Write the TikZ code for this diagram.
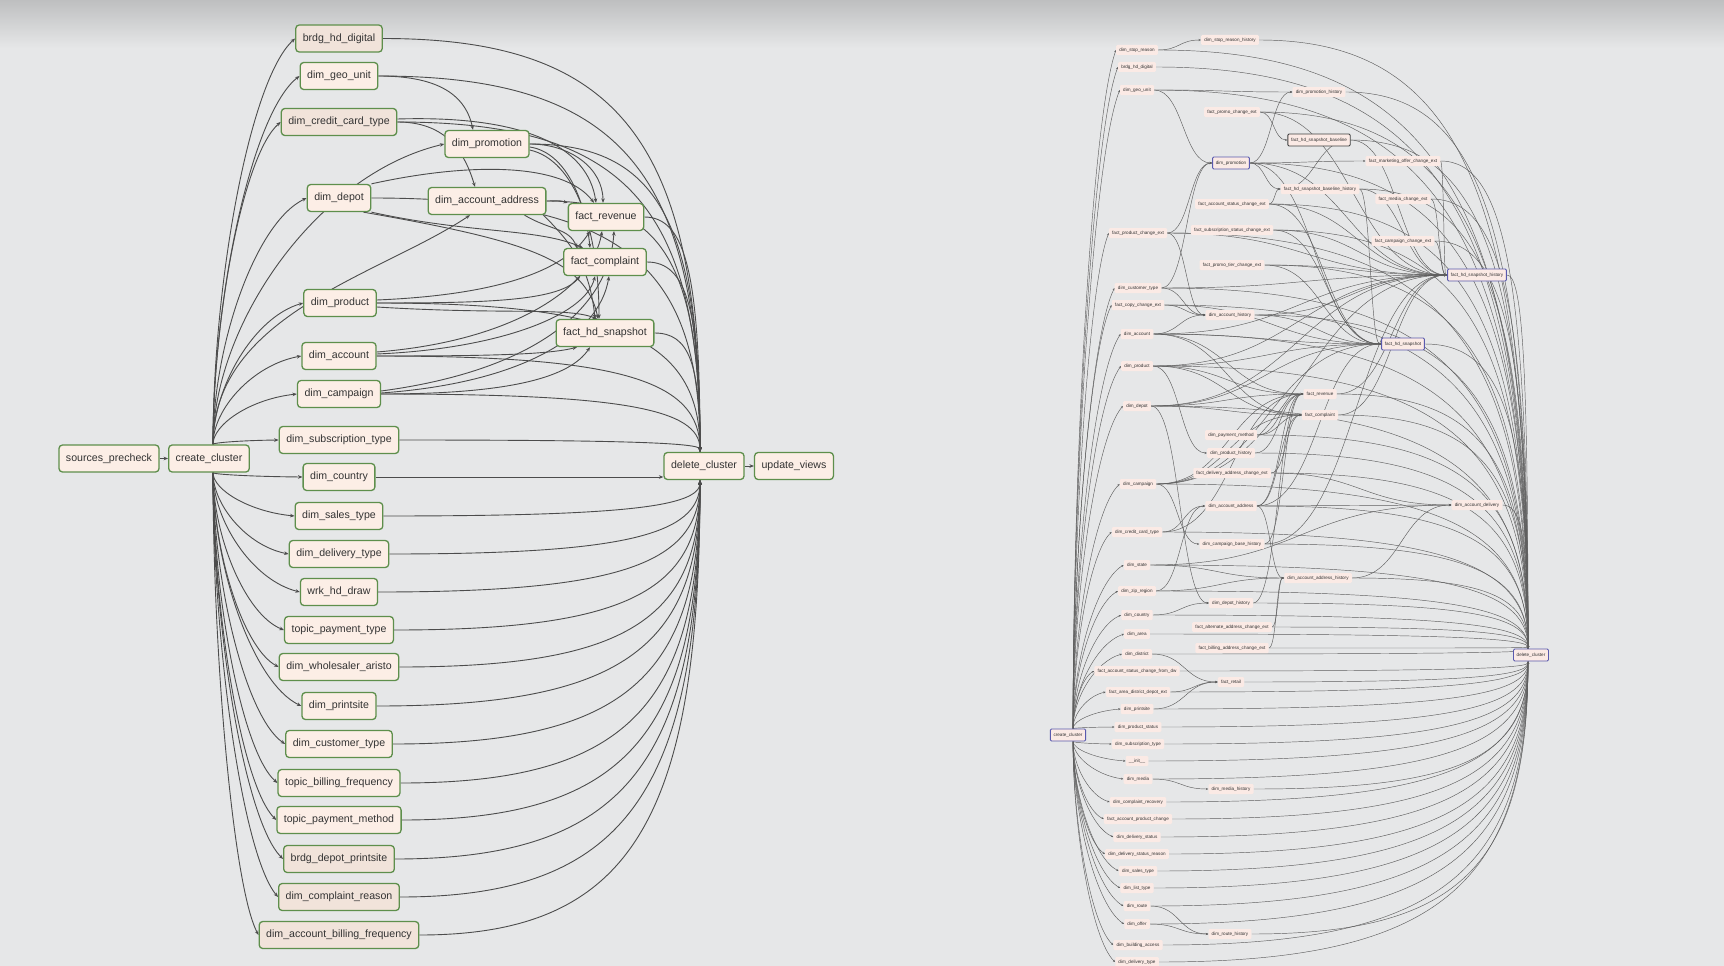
\documentclass[tikz,border=0pt]{standalone}
\usepackage{fontspec}
\setmainfont{Liberation Sans}
\usetikzlibrary{calc,arrows.meta}
\pgfdeclarelayer{bg}\pgfdeclarelayer{edges}
\pgfsetlayers{bg,edges,main}
\definecolor{bgc}{HTML}{E6E7E8}
\definecolor{topc}{HTML}{BEBFC0}
\definecolor{nfill}{HTML}{FCEEE6}
\definecolor{nfill2}{HTML}{F1E3DA}
\definecolor{ngreen}{HTML}{5E8F4C}
\definecolor{ecol}{HTML}{4C4C4C}
\definecolor{rfill}{HTML}{FBEAE5}
\definecolor{rcol}{HTML}{5E5E5E}
\definecolor{purp}{HTML}{5A5AAE}
\definecolor{txt}{HTML}{333333}
\tikzset{
 ln/.style={draw=ngreen, line width=1.3pt, fill=nfill, rounded corners=3.5pt, minimum height=27pt, inner xsep=7pt, inner ysep=0pt, font=\fontsize{10.6}{12}\selectfont, text=txt},
 ln2/.style={ln, fill=nfill2},
 rn/.style={fill=rfill, rounded corners=1.2pt, minimum height=10pt, inner xsep=3.2pt, inner ysep=0pt, font=\fontsize{4.6}{5}\selectfont, text=txt},
 rnp/.style={rn, draw=purp, line width=0.9pt, minimum height=12pt},
 rnd/.style={rn, draw=black!75, line width=0.9pt, minimum height=12pt},
 le/.style={draw=ecol, line width=0.9pt, -{Stealth[length=4.5pt,width=3.6pt]}},
 re/.style={draw=rcol, line width=0.45pt, -{Stealth[length=2.4pt,width=2pt]}},
}
\newcommand\rawVH[3]{\draw[#1] let \p1=(#2), \p2=(#3) in (\p1) .. controls (\x1,{\y1+0.4*(\y2-\y1)}) and ({\x2-0.55*(\x2-\x1)},{\y2+0.1*(\y1-\y2)}) .. (\p2);}
\newcommand\rawHV[3]{\draw[#1] let \p1=(#2), \p2=(#3) in (\p1) .. controls ($(\p1)!0.75!(\x2,\y1)$) and ($(\p2)!0.75!(\x2,\y1)$) .. (\p2);}
\newcommand\rawHH[3]{\draw[#1] let \p1=(#2.east), \p2=(#3.west) in (\p1) .. controls ($(\p1)!0.5!(\x2,\y1)$) and ($(\p2)!0.5!(\x1,\y2)$) .. (\p2);}
\newcommand\edgeVH[3][le]{\edef\tmpE{\noexpand\rawVH{#1}{#2}{#3}}\tmpE}
\newcommand\edgeHV[3][le]{\edef\tmpE{\noexpand\rawHV{#1}{#2}{#3}}\tmpE}
\newcommand\edgeHH[3][re]{\edef\tmpE{\noexpand\rawHH{#1}{#2}{#3}}\tmpE}
\begin{document}
\begin{tikzpicture}[x=1pt,y=-1pt]
\useasboundingbox (0,0) rectangle (1724,966);
\begin{pgfonlayer}{bg}
\fill[bgc] (0,0) rectangle (1724,966);
\shade[top color=topc, bottom color=bgc] (0,0) rectangle (1724,48);
\end{pgfonlayer}
% ---------------- left graph ----------------
\node[ln2] (Lbrdg) at (339,38.5) {brdg\_hd\_digital};
\node[ln] (Lgeo) at (339,76) {dim\_geo\_unit};
\node[ln2] (Lcct) at (339,122) {dim\_credit\_card\_type};
\node[ln] (Lpromo) at (487,144) {dim\_promotion};
\node[ln] (Ldepot) at (339,198) {dim\_depot};
\node[ln] (Laddr) at (487,201) {dim\_account\_address};
\node[ln] (Lrev) at (606,217) {fact\_revenue};
\node[ln] (Lcomp) at (605,262) {fact\_complaint};
\node[ln] (Lprod) at (340,303) {dim\_product};
\node[ln] (Lsnap) at (605,333) {fact\_hd\_snapshot};
\node[ln] (Lacct) at (339,356) {dim\_account};
\node[ln] (Lcamp) at (339,394) {dim\_campaign};
\node[ln] (Lsubs) at (339,440) {dim\_subscription\_type};
\node[ln] (Lsrc) at (109,458.5) {sources\_precheck};
\node[ln] (Lcc) at (209,458.5) {create\_cluster};
\node[ln] (Lcountry) at (339,477) {dim\_country};
\node[ln] (Ldc) at (704,466) {delete\_cluster};
\node[ln] (Luv) at (794,466) {update\_views};
\node[ln] (Lsales) at (339,516) {dim\_sales\_type};
\node[ln] (Ldel) at (339,554) {dim\_delivery\_type};
\node[ln] (Lwrk) at (339,592) {wrk\_hd\_draw};
\node[ln] (Ltpt) at (339,630) {topic\_payment\_type};
\node[ln] (Lwhole) at (339,667) {dim\_wholesaler\_aristo};
\node[ln] (Lprint) at (339,706) {dim\_printsite};
\node[ln] (Lcust) at (339,744) {dim\_customer\_type};
\node[ln] (Ltbf) at (339,783) {topic\_billing\_frequency};
\node[ln] (Ltpm) at (339,820) {topic\_payment\_method};
\node[ln2] (Lbdp) at (339,859) {brdg\_depot\_printsite};
\node[ln2] (Lcompl) at (339,897) {dim\_complaint\_reason};
\node[ln2] (Labf) at (339,935) {dim\_account\_billing\_frequency};
\coordinate (ccT) at ([xshift=4pt]Lcc.north);
\coordinate (ccB) at ([xshift=4pt]Lcc.south);
\coordinate (dcT) at ([xshift=-4pt]Ldc.north);
\coordinate (dcB) at ([xshift=-4pt]Ldc.south);
% ---------------- right graph ----------------
\node[rn] (Ra01) at (1137,50) {dim\_stop\_reason};
\node[rn] (Ra02) at (1137,67) {brdg\_hd\_digital};
\node[rn] (Ra03) at (1137,90) {dim\_geo\_unit};
\node[rn] (Ra04) at (1138,233) {fact\_product\_change\_ext};
\node[rn] (Ra05) at (1138,288) {dim\_customer\_type};
\node[rn] (Ra06) at (1138,305) {fact\_copy\_change\_ext};
\node[rn] (Ra07) at (1137,334) {dim\_account};
\node[rn] (Ra08) at (1137,366) {dim\_product};
\node[rn] (Ra09) at (1137,406) {dim\_depot};
\node[rn] (Ra10) at (1138,484) {dim\_campaign};
\node[rn] (Ra11) at (1137,532) {dim\_credit\_card\_type};
\node[rn] (Ra12) at (1137,565) {dim\_state};
\node[rn] (Ra13) at (1137,591) {dim\_zip\_region};
\node[rn] (Ra14) at (1137,615) {dim\_country};
\node[rn] (Ra15) at (1137,634) {dim\_area};
\node[rn] (Ra16) at (1137,654) {dim\_district};
\node[rn] (Ra17) at (1137,671) {fact\_account\_status\_change\_from\_dw};
\node[rn] (Ra18) at (1138,692) {fact\_area\_district\_depot\_ext};
\node[rn] (Ra19) at (1137,709) {dim\_printsite};
\node[rn] (Ra20) at (1138,727) {dim\_product\_status};
\node[rn] (Ra21) at (1138,744) {dim\_subscription\_type};
\node[rn] (Ra22) at (1137,761) {\_\_init\_\_};
\node[rn] (Ra23) at (1138,779) {dim\_media};
\node[rn] (Ra24) at (1138,802) {dim\_complaint\_recovery};
\node[rn] (Ra25) at (1138,819) {fact\_account\_product\_change};
\node[rn] (Ra26) at (1137,837) {dim\_delivery\_status};
\node[rn] (Ra27) at (1137,854) {dim\_delivery\_status\_reason};
\node[rn] (Ra28) at (1138,871) {dim\_sales\_type};
\node[rn] (Ra29) at (1137,888) {dim\_list\_type};
\node[rn] (Ra30) at (1137,906) {dim\_route};
\node[rn] (Ra31) at (1137,924) {dim\_offer};
\node[rn] (Ra32) at (1138,945) {dim\_building\_access};
\node[rn] (Ra33) at (1137,962) {dim\_delivery\_type};
\node[rn] (Rb01) at (1230,40) {dim\_stop\_reason\_history};
\node[rn] (Rb02) at (1232,112) {fact\_promo\_change\_ext};
\node[rnp] (Rb03) at (1231,163) {dim\_promotion};
\node[rn] (Rb04) at (1232,204) {fact\_account\_status\_change\_ext};
\node[rn] (Rb05) at (1232,230) {fact\_subscription\_status\_change\_ext};
\node[rn] (Rb06) at (1232,265) {fact\_promo\_tier\_change\_ext};
\node[rn] (Rb07) at (1230,315) {dim\_account\_history};
\node[rn] (Rb08) at (1231,435) {dim\_payment\_method};
\node[rn] (Rb09) at (1231,453) {dim\_product\_history};
\node[rn] (Rb10) at (1232,473) {fact\_delivery\_address\_change\_ext};
\node[rn] (Rb11) at (1231,506) {dim\_account\_address};
\node[rn] (Rb12) at (1232,544) {dim\_campaign\_base\_history};
\node[rn] (Rb13) at (1231,603) {dim\_depot\_history};
\node[rn] (Rb14) at (1232,627) {fact\_alternate\_address\_change\_ext};
\node[rn] (Rb15) at (1232,648) {fact\_billing\_address\_change\_ext};
\node[rn] (Rb16) at (1231,682) {fact\_retail};
\node[rn] (Rb17) at (1231,789) {dim\_media\_history};
\node[rn] (Rb18) at (1230,934) {dim\_route\_history};
\node[rn] (Rc01) at (1319,92) {dim\_promotion\_history};
\node[rnd] (Rc02) at (1319,140) {fact\_hd\_snapshot\_baseline};
\node[rn] (Rc03) at (1320,189) {fact\_hd\_snapshot\_baseline\_history};
\node[rn] (Rc04) at (1320,394) {fact\_revenue};
\node[rn] (Rc05) at (1320,415) {fact\_complaint};
\node[rn] (Rc06) at (1318,578) {dim\_account\_address\_history};
\node[rn] (Rd01) at (1403,161) {fact\_marketing\_offer\_change\_ext};
\node[rn] (Rd02) at (1403,199) {fact\_media\_change\_ext};
\node[rn] (Rd03) at (1403,241) {fact\_campaign\_change\_ext};
\node[rnp] (Rd04) at (1403,344) {fact\_hd\_snapshot};
\node[rnp] (Re01) at (1477,275) {fact\_hd\_snapshot\_history};
\node[rn] (Re02) at (1477,505) {dim\_account\_delivery};
\node[rnp] (Rcc) at (1068,735) {create\_cluster};
\node[rnp] (Rdc) at (1531,655) {delete\_cluster};
\coordinate (rccT) at ([xshift=5pt]Rcc.north);
\coordinate (rccB) at ([xshift=5pt]Rcc.south);
\coordinate (rdcT) at ([xshift=-3pt]Rdc.north);
\coordinate (rdcB) at ([xshift=-3pt]Rdc.south);
\begin{pgfonlayer}{edges}
% left graph edges
\draw[le] (Lsrc.east) -- (Lcc.west);
\draw[le] (Ldc.east) -- (Luv.west);
\foreach \n in {Lbrdg,Lgeo,Lcct,Lpromo,Ldepot,Lprod,Lacct,Lcamp,Lsubs} {\edgeVH{ccT}{\n.west}}
\draw[le] (ccT) .. controls +(0,-130) and +(-90,60) .. ([xshift=-17pt]Laddr.south);
\foreach \n in {Lcountry,Lsales,Ldel,Lwrk,Ltpt,Lwhole,Lprint,Lcust,Ltbf,Ltpm,Lbdp,Lcompl,Labf} {\edgeVH{ccB}{\n.west}}
\foreach \n in {Lbrdg,Lgeo,Lcct,Lpromo,Ldepot,Laddr,Lrev,Lcomp,Lprod,Lsnap,Lacct,Lcamp,Lsubs} {\edgeHV{\n.east}{dcT}}
\draw[le] (Lcountry.east) -- (Ldc.west |- Lcountry.east);
\foreach \n in {Lsales,Ldel,Lwrk,Ltpt,Lwhole,Lprint,Lcust,Ltbf,Ltpm,Lbdp,Lcompl,Labf} {\edgeHV{\n.east}{dcB}}
\draw[le] (Lgeo.east) .. controls +(55,0) and +(-8,-38) .. ([xshift=-14pt]Lpromo.north);
\draw[le] (Lcct.east) .. controls +(45,0) and +(-12,-40) .. ([xshift=-12pt]Laddr.north);
\draw[le] ([yshift=3pt]Lcct.east) .. controls +(130,-4) and +(-8,-55) .. ([xshift=-10pt]Lrev.north);
\draw[le] (Lpromo.east) .. controls +(40,0) and +(0,-35) .. ([xshift=-3pt]Lrev.north);
\draw[le] ([yshift=-3pt]Lpromo.east) .. controls +(35,5) and +(-5,-50) .. ([xshift=-15pt]Lcomp.north);
\draw[le] ([yshift=-6pt]Lpromo.east) .. controls +(45,10) and +(0,-90) .. ([xshift=-6pt]Lsnap.north);
\draw[le] (Ldepot.north east) .. controls +(100,-22) and +(-30,-40) .. ([xshift=-12pt]Lrev.north);
\draw[le] (Ldepot.south east) .. controls +(100,22) and +(-45,-20) .. ([xshift=-22pt]Lcomp.north);
\draw[le] ([xshift=-8pt]Ldepot.south east) .. controls +(160,28) and +(-12,-60) .. ([xshift=-7pt]Lsnap.north);
\draw[le] (Laddr.east) .. controls +(10,0) and +(-10,-3) .. (Lrev.north west);
\draw[le] ([xshift=-22pt]Laddr.south east) .. controls +(25,15) and +(-8,-20) .. ([xshift=-28pt]Lcomp.north);
\draw[le] ([xshift=-3pt]Laddr.south east) .. controls +(30,30) and +(-5,-50) .. ([xshift=-10pt]Lsnap.north);
\draw[le] ([yshift=3pt]Lprod.east) .. controls +(120,-5) and +(-25,40) .. ([xshift=-16pt]Lrev.south);
\draw[le] (Lprod.east) .. controls +(110,0) and +(-20,25) .. ([xshift=-25pt]Lcomp.south);
\draw[le] ([yshift=-4pt]Lprod.east) .. controls +(130,8) and +(-30,-12) .. ([xshift=-8pt]Lsnap.north);
\draw[le] ([yshift=4pt]Lacct.east) .. controls +(130,-10) and +(-10,60) .. ([xshift=-4pt]Lrev.south);
\draw[le] ([yshift=2pt]Lacct.east) .. controls +(120,-5) and +(-10,40) .. ([xshift=-10pt]Lcomp.south);
\draw[le] (Lacct.east) .. controls +(100,0) and +(-30,8) .. ([xshift=-28pt]Lsnap.south);
\draw[le] ([yshift=3pt]Lcamp.east) .. controls +(150,-20) and +(-5,80) .. ([xshift=8pt]Lrev.south);
\draw[le] ([yshift=1pt]Lcamp.east) .. controls +(140,-10) and +(-10,60) .. ([xshift=4pt]Lcomp.south);
\draw[le] (Lcamp.east) .. controls +(130,0) and +(-20,30) .. ([xshift=-15pt]Lsnap.south);
% right graph edges
\foreach \n in {a01,a02,a03,a04,a05,a06,a07,a08,a09,a10,a11,a12,a13,a14,a15,a16,a17,a18,a19,a20} {\edgeVH[re]{rccT}{R\n.west}}
\foreach \n in {a21,a22,a23,a24,a25,a26,a27,a28,a29,a30,a31,a32,a33} {\edgeVH[re]{rccB}{R\n.west}}
\foreach \n in {a01,a02,a03,a04,a05,a06,a07,a08,a09,a10,a11,a12,a13,a14,a15,a16,b01,b02,b03,b04,b05,b06,b07,b08,b09,b10,b11,b12,b13,b14,b15,c01,c02,c03,c04,c05,c06,d01,d02,d03,d04,e01,e02} {\edgeHV[re]{R\n.east}{rdcT}}
\foreach \n in {a17,a18,a19,a20,a21,a22,a23,a24,a25,a26,a27,a28,a29,a30,a31,a32,a33,b16,b17,b18} {\edgeHV[re]{R\n.east}{rdcB}}
\foreach \s/\t in {a01/b01,a03/c01,a03/b03,b03/c01,b03/c03,b03/d01,b03/e01,b03/d04,b02/c02,b02/e01,c02/c03,c02/e01,c03/e01,c03/d04,d01/e01,d02/e01,d03/e01,b04/e01,b05/e01,b06/e01,b04/d04,b05/d04,b06/d04,b04/c03,a04/b07,a05/b07,a06/b07,a07/b07,b07/e01,b07/d04,a04/b03,a05/b03,a07/c04,a07/c05,a07/d04,a07/e01,a08/c04,a08/c05,a08/d04,a08/b09,a08/e01,a09/c04,a09/c05,a09/d04,a09/b13,a09/e01,a10/c04,a10/c05,a10/b12,a10/d04,a10/e01,b08/c04,b08/c05,b09/c04,b10/c05,b10/e02,a11/b11,b11/c04,b11/c05,b11/c06,b11/e02,b11/d04,a13/b11,a13/c06,a12/c06,a14/b13,b14/c06,b15/c06,b12/c04,b13/c04,a16/b16,a18/b16,a19/b16,a23/b17,a30/b18,a31/b18,a05/e01,a06/d04,a04/e01,c04/e01,c05/e01,c06/e02,b12/e01,a11/c04,a12/e02} {\edgeHH{R\s}{R\t}}
\end{pgfonlayer}
\end{tikzpicture}
\end{document}
